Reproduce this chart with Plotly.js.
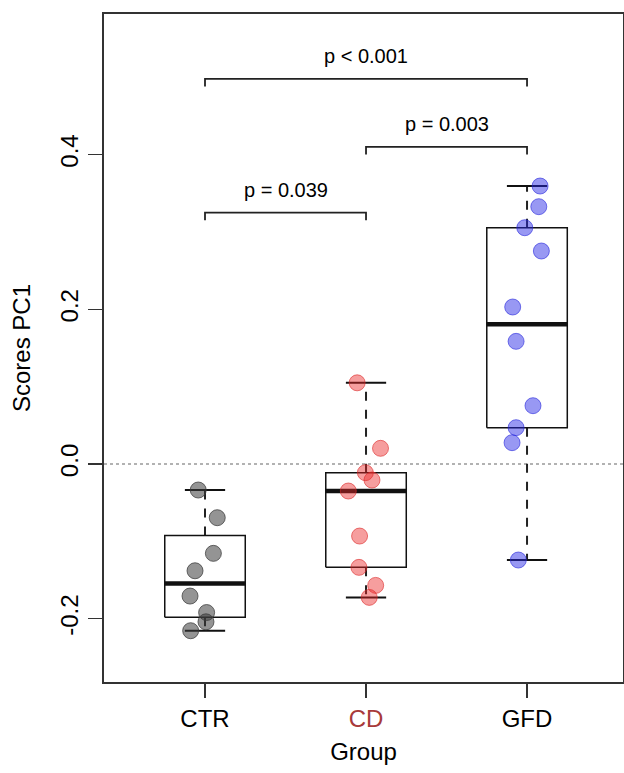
<!DOCTYPE html>
<html>
<head>
<meta charset="utf-8">
<script src="https://cdn.plot.ly/plotly-3.0.1.min.js"></script>
<style>html,body{margin:0;padding:0;background:#fff;}#chart{width:624px;height:773px;}</style>
</head>
<body>
<div id="chart"></div>
<script>
// ---- data ----
const categories = ['CTR', 'CD', 'GFD'];
const categoryPos = [1, 2, 3];

const ctrScores = [-0.0336, -0.0694, -0.1155, -0.138, -0.1707, -0.192, -0.204, -0.2155];
const ctrJitter = [0.958, 1.076, 1.052, 0.938, 0.907, 1.010, 1.006, 0.911];

const cdScores = [0.105, 0.0203, -0.0112, -0.0207, -0.0349, -0.0931, -0.1336, -0.1569, -0.1724];
const cdJitter = [1.945, 2.090, 1.996, 2.037, 1.890, 1.960, 1.956, 2.060, 2.020];

const gfdScores = [0.3594, 0.3327, 0.3055, 0.2754, 0.203, 0.1586, 0.0754, 0.047, 0.0276, -0.1241];
const gfdJitter = [3.081, 3.073, 2.986, 3.089, 2.911, 2.932, 3.037, 2.932, 2.907, 2.946];

const pLabels = ['p = 0.039', 'p = 0.003', 'p &lt; 0.001'];
const pFrom = [1, 2, 1];
const pTo = [2, 3, 3];
const pLevel = [0.325, 0.41, 0.498];

const yTickVals = [-0.2, 0.0, 0.2, 0.4];
const yTickText = ['-0.2', '0.0', '0.2', '0.4'];

// ---- styles ----
const FONT = 'Liberation Sans, Arial, Helvetica, sans-serif';
const pointFill = ['rgba(60,60,60,0.55)', 'rgba(235,40,40,0.45)', 'rgba(40,40,230,0.48)'];
const pointEdge = ['rgba(60,60,60,0.75)', 'rgba(220,40,40,0.6)', 'rgba(40,40,220,0.6)'];
const BOX_HALF = 0.25, CAP_HALF = 0.125, TICK_DROP = 0.01;

// Tukey five-number summary (as R's boxplot uses)
function fivenum(arr) {
  const x = arr.slice().sort((a, b) => a - b);
  const n = x.length;
  const n4 = Math.floor((n + 3) / 2) / 2;
  const d = [1, n4, (n + 1) / 2, n + 1 - n4, n];
  return d.map(v => 0.5 * (x[Math.floor(v) - 1] + x[Math.ceil(v) - 1]));
}

const groups = [ctrScores, cdScores, gfdScores];
const jitters = [ctrJitter, cdJitter, gfdJitter];

const traces = [];
const boxX = [], boxY = [], medX = [], medY = [], whX = [], whY = [], capX = [], capY = [];
groups.forEach((g, i) => {
  const c = categoryPos[i];
  const [mn, q1, md, q3, mx] = fivenum(g);
  boxX.push(c - BOX_HALF, c + BOX_HALF, c + BOX_HALF, c - BOX_HALF, c - BOX_HALF, null);
  boxY.push(q1, q1, q3, q3, q1, null);
  medX.push(c - BOX_HALF, c + BOX_HALF, null);
  medY.push(md, md, null);
  whX.push(c, c, null, c, c, null);
  whY.push(q3, mx, null, q1, mn, null);
  capX.push(c - CAP_HALF, c + CAP_HALF, null, c - CAP_HALF, c + CAP_HALF, null);
  capY.push(mx, mx, null, mn, mn, null);
});
const lineTrace = (x, y, w, dash, color) => ({
  type: 'scatter', mode: 'lines', x, y, hoverinfo: 'skip', showlegend: false,
  line: {color: color || '#111', width: w, dash: dash || 'solid'}
});
traces.push(lineTrace(whX, whY, 2, 'dash', '#222'));
traces.push(lineTrace(capX, capY, 2));
traces.push(lineTrace(boxX, boxY, 1.5));
traces.push(lineTrace(medX, medY, 4.5));

groups.forEach((g, i) => {
  traces.push({
    type: 'scatter', mode: 'markers', x: jitters[i], y: g, showlegend: false,
    name: categories[i],
    marker: {size: 16, color: pointFill[i], line: {color: pointEdge[i], width: 1}}
  });
});

// significance brackets
const brX = [], brY = [];
const annotations = [];
pLabels.forEach((t, i) => {
  brX.push(pFrom[i], pFrom[i], pTo[i], pTo[i], null);
  brY.push(pLevel[i] - TICK_DROP, pLevel[i], pLevel[i], pLevel[i] - TICK_DROP, null);
  annotations.push({
    x: (pFrom[i] + pTo[i]) / 2, y: pLevel[i], xref: 'x', yref: 'y',
    text: t, showarrow: false, yanchor: 'bottom', yshift: 10,
    font: {family: FONT, size: 20, color: '#000'}
  });
});
traces.push(lineTrace(brX, brY, 1.8, 'solid', '#222'));

const tickText = categories.map(c => c === 'CD' ? '<span style="color:#a83a3a">CD</span>' : c);

const layout = {
  width: 624, height: 773,
  margin: {l: 104, r: 1, t: 14, b: 91, pad: 0},
  paper_bgcolor: '#fff', plot_bgcolor: '#fff',
  font: {family: FONT, color: '#000'},
  showlegend: false,
  xaxis: {
    range: [0.3727, 3.596], tickmode: 'array', tickvals: categoryPos, ticktext: tickText,
    ticks: 'outside', ticklen: 14, tickwidth: 1.5, tickcolor: '#333',
    showline: true, mirror: true, linecolor: '#333', linewidth: 2,
    showgrid: false, zeroline: false,
    tickfont: {family: FONT, size: 24, color: '#000'},
    title: {text: 'Group', font: {family: FONT, size: 24, color: '#000'}, standoff: 12}
  },
  yaxis: {
    range: [-0.2818, 0.5818], tickmode: 'array', tickvals: yTickVals, ticktext: yTickText,
    tickangle: -90,
    ticks: 'outside', ticklen: 14, tickwidth: 1.5, tickcolor: '#333',
    showline: true, mirror: true, linecolor: '#333', linewidth: 2,
    showgrid: false, zeroline: false,
    tickfont: {family: FONT, size: 24, color: '#000'},
    title: {text: 'Scores PC1', font: {family: FONT, size: 24, color: '#000'}, standoff: 19}
  },
  shapes: [{
    type: 'line', xref: 'paper', x0: 0, x1: 1, yref: 'y', y0: 0, y1: 0,
    line: {color: '#999', width: 1.5, dash: 'dot'}, layer: 'below'
  }],
  annotations: annotations
};

Plotly.newPlot('chart', traces, layout, {displayModeBar: false, staticPlot: true});
</script>
</body>
</html>
